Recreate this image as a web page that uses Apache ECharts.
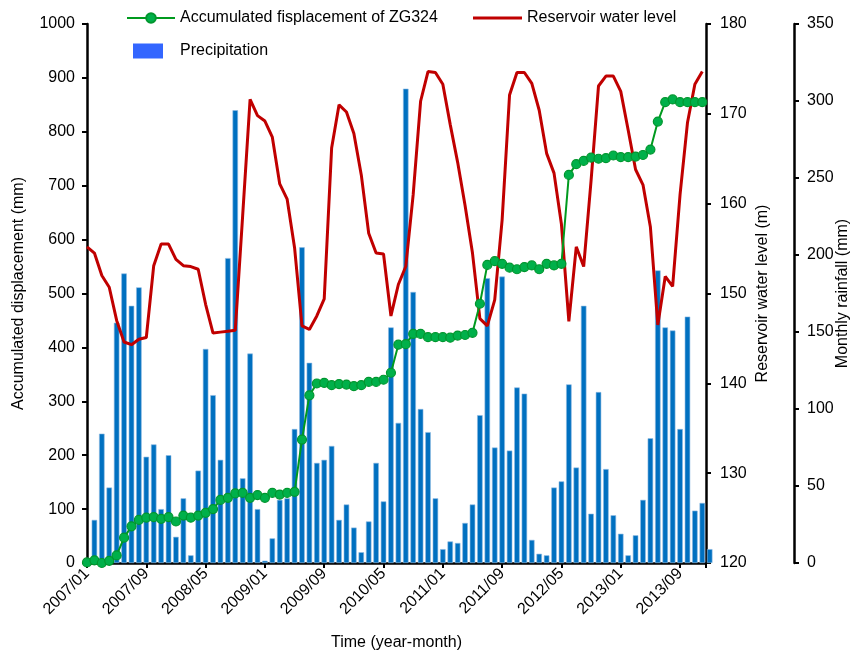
<!DOCTYPE html>
<html>
<head>
<meta charset="utf-8">
<script src="https://cdn.jsdelivr.net/npm/echarts@6/dist/echarts.min.js"></script>
<style>html,body{margin:0;padding:0;background:#fff}#c{width:850px;height:655px}</style>
</head>
<body>
<div id="c"></div>
<script>
// Months 2007/01 .. 2013/12
const months = [];
for (let y = 2007; y <= 2013; y++) for (let m = 1; m <= 12; m++) months.push(y + '/' + (m < 10 ? '0' + m : m));

// Accumulated displacement of ZG324 (mm), one per month
const displacement = [1,5,0,4,14,47,68,80,84,85,82,85,77,88,84,88,93,100,117,121,129,130,121,126,121,130,127,130,132,229,311,333,334,330,332,331,328,330,336,336,340,353,405,406,425,425,419,419,419,418,422,423,427,481,553,560,555,548,545,549,552,545,555,552,555,720,740,746,752,750,751,756,753,753,754,757,767,819,855,860,855,855,855,855];

// Reservoir water level (m), one per month
const waterLevel = [155.2,154.5,152.0,150.7,147.0,144.6,144.3,144.9,145.1,153.1,155.5,155.5,153.8,153.1,153.0,152.7,148.8,145.6,145.7,145.8,145.9,158.7,171.6,169.8,169.2,167.4,162.2,160.5,155.1,146.4,146.0,147.5,149.4,166.2,171.0,170.2,167.8,163.2,156.7,154.5,154.4,147.5,151.0,153.0,161.0,171.4,174.7,174.6,173.3,168.8,164.6,159.8,154.5,147.2,146.4,149.3,158.2,172.1,174.6,174.6,173.4,170.4,165.6,163.4,157.7,146.9,155.2,153.0,162.6,173.1,174.2,174.2,172.5,168.2,163.8,162.1,157.4,146.5,151.9,150.8,161.0,169.0,173.3,174.7];

// Monthly rainfall (mm), drawn one month after each month slot
const rainfall = [28,84,49,156,188,167,179,69,77,35,70,17,42,5,60,139,109,67,198,294,55,136,35,1.5,16,41,42,87,205,130,65,67,76,28,38,23,7,27,65,40,153,91,308,176,100,85,42,9,14,13,26,38,96,185,75,186,73,114,110,15,6,5,49,53,116,62,167,32,111,61,31,19,5,18,41,81,190,153,151,87,160,34,39,9];
const rainShift = 1;

const tickStep = 8;

const FONT = "'Liberation Sans', Arial, sans-serif";
const chart = echarts.init(document.getElementById('c'), null, {renderer: 'canvas'});

const axisCommon = {
  axisLine: {show: true, lineStyle: {color: '#000', width: 2.5}},
  axisTick: {show: true, length: 5, lineStyle: {color: '#000', width: 2}},
  splitLine: {show: false},
  axisLabel: {color: '#000', fontSize: 16, fontFamily: FONT, formatter: v => String(v)},
  nameTextStyle: {color: '#000', fontSize: 16, fontFamily: FONT}
};
const legendText = {fontSize: 16, color: '#000', fontFamily: FONT};

chart.setOption({
  animation: false,
  textStyle: {fontFamily: FONT},
  grid: {left: 87, right: 144, top: 24, bottom: 92, containLabel: false, outerBoundsMode: 'none'},
  legend: [
    {
      left: 121, top: 5, itemWidth: 48, itemHeight: 12,
      textStyle: legendText,
      data: ['Accumulated fisplacement of ZG324']
    },
    {
      left: 468, top: 5, itemWidth: 49, itemHeight: 3,
      textStyle: legendText,
      data: [{name: 'Reservoir water level', icon: 'rect'}]
    },
    {
      left: 128, top: 38, itemWidth: 30, itemHeight: 15,
      textStyle: Object.assign({}, legendText, {padding: [0, 0, 0, 12]}),
      data: [{name: 'Precipitation', icon: 'rect', itemStyle: {color: '#3366FF', borderWidth: 0}}]
    }
  ],
  xAxis: Object.assign({}, axisCommon, {
    type: 'value', min: 0, max: 83.5, interval: tickStep,
    axisLabel: Object.assign({}, axisCommon.axisLabel, {
      rotate: 45, margin: 8,
      formatter: v => (Number.isInteger(v) && v % tickStep === 0 && months[v]) ? months[v] : ''
    }),
    name: 'Time (year-month)', nameLocation: 'middle', nameGap: 72, nameMoveOverlap: false
  }),
  yAxis: [
    Object.assign({}, axisCommon, {
      type: 'value', min: 0, max: 1000, interval: 100, position: 'left',
      axisLabel: Object.assign({}, axisCommon.axisLabel, {margin: 12}),
      name: 'Accumulated displacement (mm)', nameLocation: 'middle', nameGap: 60, nameRotate: 90, nameMoveOverlap: false
    }),
    Object.assign({}, axisCommon, {
      type: 'value', min: 120, max: 180, interval: 10, position: 'right',
      axisLabel: Object.assign({}, axisCommon.axisLabel, {margin: 14}),
      name: 'Reservoir water level (m)', nameLocation: 'middle', nameGap: 49, nameRotate: 90, nameMoveOverlap: false
    }),
    Object.assign({}, axisCommon, {
      type: 'value', min: 0, max: 350, interval: 50, position: 'right', offset: 88,
      axisLabel: Object.assign({}, axisCommon.axisLabel, {margin: 13}),
      name: 'Monthly rainfall (mm)', nameLocation: 'middle', nameGap: 41, nameRotate: 90, nameMoveOverlap: false
    })
  ],
  series: [
    {
      name: 'Precipitation', type: 'bar', yAxisIndex: 2, barWidth: 5.5, clip: false, z: 1,
      itemStyle: {color: '#0070C0', borderColor: '#8DBBE3', borderWidth: 0.6},
      data: rainfall.map((v, i) => [i + rainShift, v])
    },
    {
      name: 'Reservoir water level', type: 'line', yAxisIndex: 1, z: 3,
      symbol: 'none', lineStyle: {color: '#C00000', width: 3}, itemStyle: {color: '#C00000'},
      data: waterLevel.map((v, i) => [i, v])
    },
    {
      name: 'Accumulated fisplacement of ZG324', type: 'line', yAxisIndex: 0, z: 4,
      symbol: 'circle', symbolSize: 9,
      lineStyle: {color: '#009A1E', width: 2},
      itemStyle: {color: '#00B04A', borderColor: '#00962E', borderWidth: 1.2},
      data: displacement.map((v, i) => [i, v])
    }
  ]
});
</script>
</body>
</html>
